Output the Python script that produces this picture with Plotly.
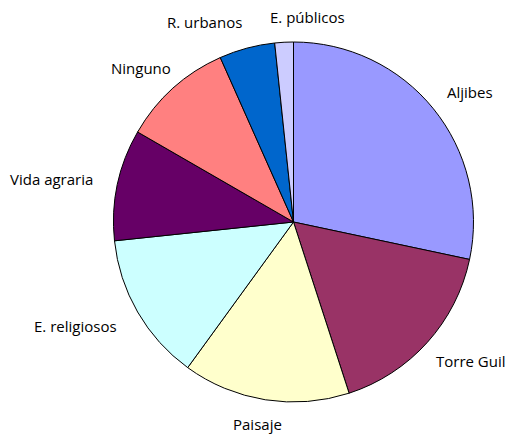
import math

import plotly.graph_objects as go

# data
labels = ["Aljibes", "Torre Guil", "Paisaje", "E. religiosos",
          "Vida agraria", "Ninguno", "R. urbanos", "E. públicos"]
values = [17, 10, 9, 8, 6, 6, 3, 1]
colors = ["#9999FF", "#993366", "#FFFFCC", "#CCFFFF",
          "#660066", "#FF8080", "#0066CC", "#CCCCFF"]

W, H = 519, 434
PAGE = 8  # default body margin of the html page
cx, cy, R = 293.5 - PAGE, 222 - PAGE, 180  # pie centre / radius in figure px

fig = go.Figure(go.Pie(
    labels=labels,
    values=values,
    marker=dict(colors=colors, line=dict(color="black", width=1)),
    sort=False,
    direction="clockwise",
    rotation=0,
    textinfo="none",
    hoverinfo="label+value",
    showlegend=False,
    domain=dict(x=[(cx - R) / W, (cx + R) / W], y=[(H - cy - R) / H, (H - cy + R) / H]),
))

# labels outside the pie at the mid angle of each slice (Excel style)
total = sum(values)
acc = 0
char_w, text_h = 7.9, 15
boxes = []
for lab, v in zip(labels, values):
    mid = (acc + v / 2) / total * 2 * math.pi
    acc += v
    s, c = math.sin(mid), math.cos(mid)
    w = len(lab) * char_w
    y = cy - 1.11 * R * c - text_h / 2 * c
    y = min(max(y, text_h - PAGE + 2), H - PAGE - text_h / 2 - 3)  # stay on the page
    boxes.append([cx + 1.11 * R * s + w / 2 * s, y, w, lab])

# push overlapping neighbours apart horizontally
for i in range(len(boxes) - 1):
    a, b = boxes[i], boxes[i + 1]
    if abs(a[1] - b[1]) < text_h:
        gap = (a[2] + b[2]) / 2 + 20 - abs(a[0] - b[0])
        if gap > 0:
            d = 1 if b[0] > a[0] else -1
            a[0] -= d * gap / 2
            b[0] += d * gap / 2

for x, y, w, lab in boxes:
    fig.add_annotation(
        x=x / W, y=1 - y / H, xref="paper", yref="paper",
        text=lab, showarrow=False, xanchor="center", yanchor="middle",
        font=dict(family="Open Sans", size=15, color="black"),
    )

fig.update_layout(
    width=W, height=H,
    margin=dict(l=0, r=0, t=0, b=0),
    paper_bgcolor="white",
    plot_bgcolor="white",
)

fig.write_html("out.html")
